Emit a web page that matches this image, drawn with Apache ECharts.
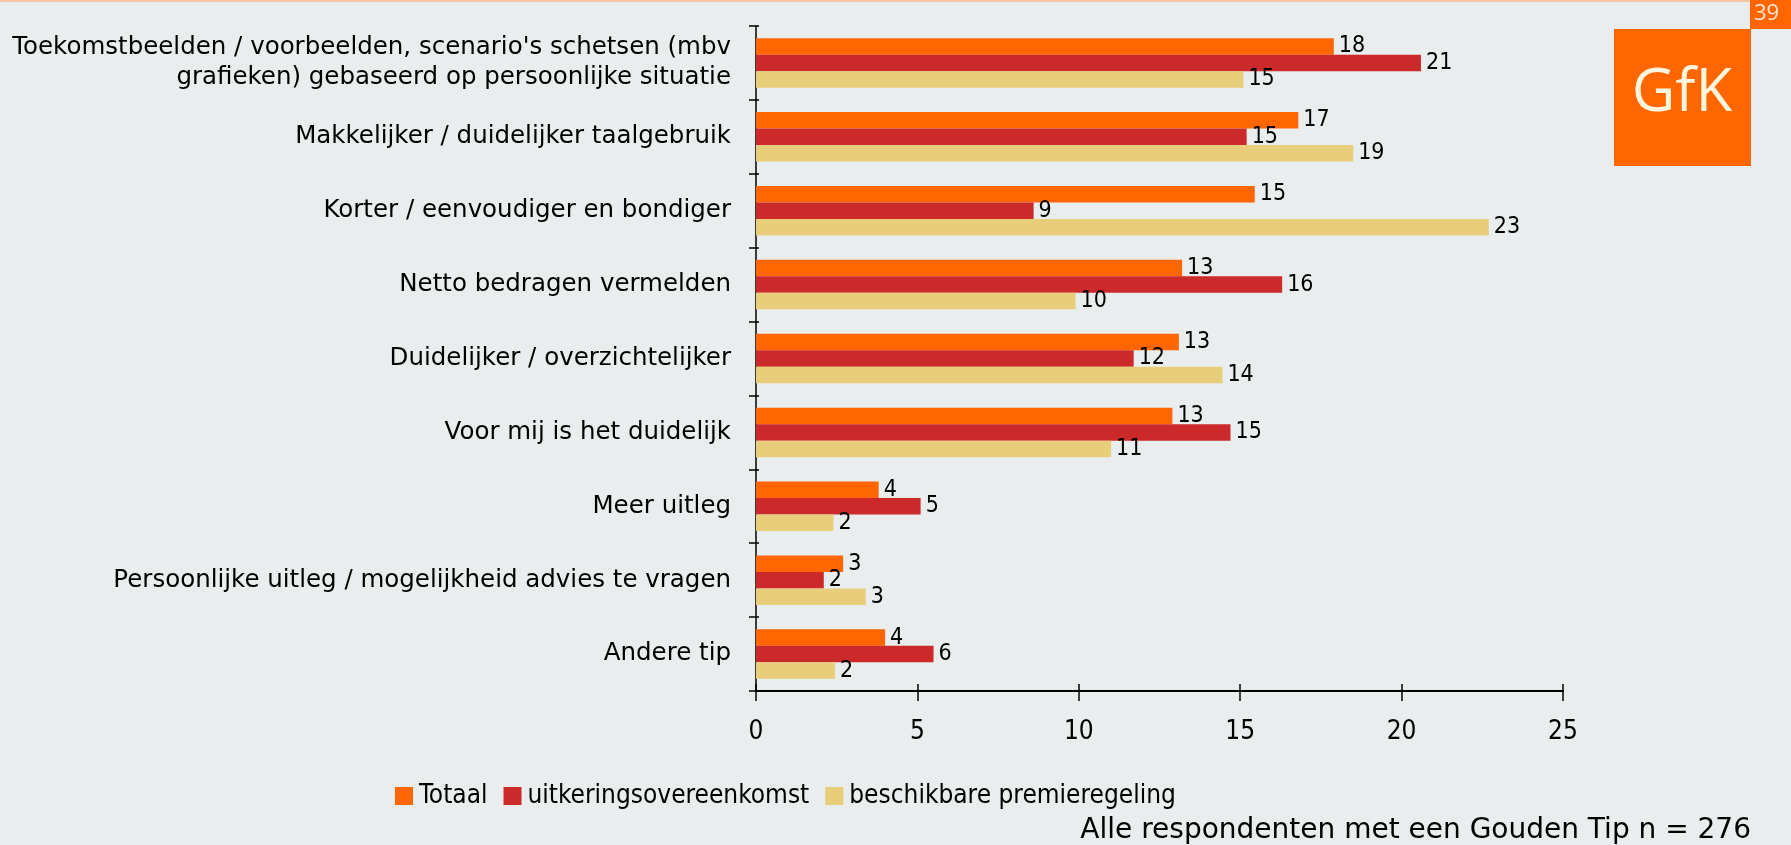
<!DOCTYPE html>
<html>
<head>
<meta charset="utf-8">
<script src="https://cdn.jsdelivr.net/npm/echarts@6/dist/echarts.min.js"></script>
<style>
  html, body { margin: 0; padding: 0; background: #e9edee; }
  #chart { width: 1791px; height: 845px; }
</style>
</head>
<body>
<div id="chart"></div>
<script>
// categories, top to bottom
const categories = [
  "Toekomstbeelden / voorbeelden, scenario's schetsen (mbv\ngrafieken) gebaseerd op persoonlijke situatie",
  'Makkelijker / duidelijker taalgebruik',
  'Korter / eenvoudiger en bondiger',
  'Netto bedragen vermelden',
  'Duidelijker / overzichtelijker',
  'Voor mij is het duidelijk',
  'Meer uitleg',
  'Persoonlijke uitleg / mogelijkheid advies te vragen',
  'Andere tip'
]
const seriesNames = ['Totaal', 'uitkeringsovereenkomst', 'beschikbare premieregeling']
const totaal = [17.9, 16.8, 15.45, 13.2, 13.1, 12.9, 3.8, 2.7, 4.0]
const uitkering = [20.6, 15.2, 8.6, 16.3, 11.7, 14.7, 5.1, 2.1, 5.5]
const premie = [15.1, 18.5, 22.7, 9.9, 14.45, 11.0, 2.4, 3.4, 2.45]
const xTicks = [0, 5, 10, 15, 20, 25]
const colors = ['#ff6600', '#cc292b', '#e8ce7a']

const chart = echarts.init(document.getElementById('chart'))

const valueLabel = {
  show: true,
  position: 'right',
  distance: 5,
  color: '#000',
  fontFamily: 'DejaVu Sans Condensed, DejaVu Sans',
  fontSize: 23,
  formatter: (p) => Math.round(p.value)
}

const makeSeries = (name, data, i) => ({
  name: name,
  type: 'bar',
  data: data,
  barGap: '0%',
  barCategoryGap: '33%',
  itemStyle: { color: colors[i] },
  label: valueLabel,
  animation: false
})

chart.setOption({
  backgroundColor: '#e9edee',
  grid: { left: 756, right: 228, top: 26, bottom: 154, containLabel: false },
  legend: {
    left: 390,
    top: 778,
    icon: 'rect',
    itemWidth: 18,
    itemHeight: 18,
    itemGap: 16,
    data: seriesNames,
    textStyle: {
      color: '#000',
      fontFamily: 'DejaVu Sans Condensed, DejaVu Sans',
      fontSize: 26,
      padding: [0, 0, 0, 1]
    }
  },
  xAxis: [
    {
      type: 'value',
      min: xTicks[0],
      max: xTicks[xTicks.length - 1],
      interval: 5,
      position: 'bottom',
      splitLine: { show: false },
      axisLine: { show: true, lineStyle: { color: '#000', width: 2 } },
      axisTick: { show: true, length: 10, lineStyle: { color: '#000', width: 1.5 } },
      axisLabel: {
        margin: 28,
        color: '#000',
        fontFamily: 'DejaVu Sans Condensed, DejaVu Sans',
        fontSize: 26
      }
    },
    {
      type: 'value',
      min: xTicks[0],
      max: xTicks[xTicks.length - 1],
      interval: 5,
      position: 'bottom',
      splitLine: { show: false },
      axisLine: { show: false },
      axisTick: { show: true, inside: true, length: 7, lineStyle: { color: '#000', width: 1.5 } },
      axisLabel: { show: false }
    }
  ],
  yAxis: [
    {
      type: 'category',
      inverse: true,
      data: categories,
      axisLine: { show: true, lineStyle: { color: '#000', width: 1.5 } },
      axisTick: { show: true, length: 7, lineStyle: { color: '#000', width: 1.5 } },
      axisLabel: {
        margin: 25,
        color: '#000',
        fontFamily: 'DejaVu Sans',
        fontSize: 24.5,
        lineHeight: 30,
        align: 'right'
      }
    },
    {
      type: 'category',
      inverse: true,
      position: 'left',
      data: categories,
      axisLine: { show: false },
      axisTick: { show: true, inside: true, length: 3, lineStyle: { color: '#000', width: 1.5 } },
      axisLabel: { show: false }
    }
  ],
  series: [
    makeSeries(seriesNames[0], totaal, 0),
    makeSeries(seriesNames[1], uitkering, 1),
    makeSeries(seriesNames[2], premie, 2)
  ],
  graphic: [
    { type: 'rect', left: 0, top: 0, shape: { width: 1750, height: 2 }, style: { fill: '#f6c6a4' } },
    { type: 'rect', left: 1750, top: 0, shape: { width: 41, height: 29 }, style: { fill: '#ff6600' } },
    {
      type: 'text', left: 1754, top: 3,
      style: { text: '39', fill: '#fde6d2', font: '22px "Open Sans", sans-serif' }
    },
    { type: 'rect', left: 1614, top: 29, shape: { width: 137, height: 137 }, style: { fill: '#ff6600' } },
    {
      type: 'text', x: 1682, y: 94,
      style: {
        text: 'GfK', fill: '#fff4dc', font: '60px "Open Sans", sans-serif',
        align: 'center', verticalAlign: 'middle'
      }
    },
    {
      type: 'text', x: 1751, y: 845,
      style: {
        text: 'Alle respondenten met een Gouden Tip n = 276', fill: '#000',
        font: '28px "DejaVu Sans"', align: 'right', verticalAlign: 'bottom'
      }
    }
  ]
})
</script>
</body>
</html>
